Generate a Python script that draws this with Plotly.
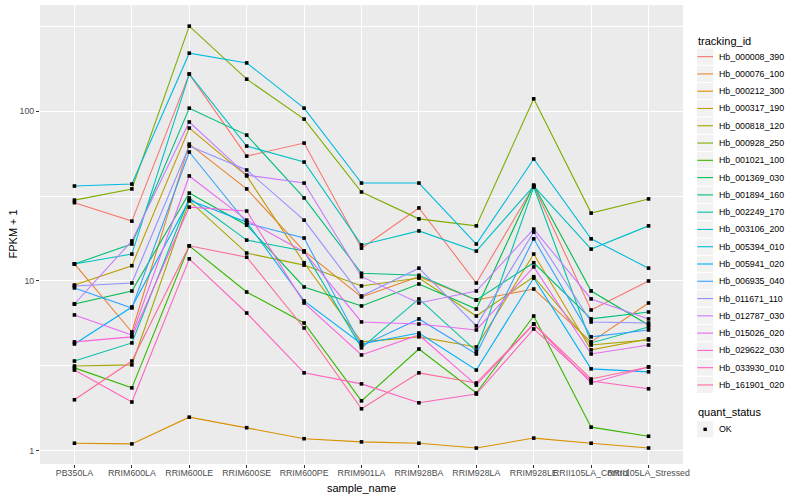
import math
import plotly.graph_objects as go

# ---------------- data ----------------
categories = ["PB350LA", "RRIM600LA", "RRIM600LE", "RRIM600SE", "RRIM600PE",
              "RRIM901LA", "RRIM928BA", "RRIM928LA", "RRIM928LE",
              "RRII105LA_Control", "RRII105LA_Stressed"]

tracking_ids = ["Hb_000008_390", "Hb_000076_100", "Hb_000212_300", "Hb_000317_190",
                "Hb_000818_120", "Hb_000928_250", "Hb_001021_100", "Hb_001369_030",
                "Hb_001894_160", "Hb_002249_170", "Hb_003106_200", "Hb_005394_010",
                "Hb_005941_020", "Hb_006935_040", "Hb_011671_110", "Hb_012787_030",
                "Hb_015026_020", "Hb_029622_030", "Hb_033930_010", "Hb_161901_020"]

hb_000008_390 = [28.9, 22.5, 165, 54.3, 64.8, 15.6, 26.9, 9.73, 36.2, 6.75, 10.0]
hb_000076_100 = [12.6, 5.01, 63.9, 34.8, 15.0, 8.05, 10.6, 7.73, 8.97, 4.38, 7.42]
hb_000212_300 = [1.11, 1.10, 1.58, 1.37, 1.18, 1.13, 1.11, 1.04, 1.19, 1.11, 1.04]
hb_000317_190 = [9.47, 12.3, 79.4, 41.5, 12.8, 4.38, 4.69, 4.09, 14.4, 3.93, 4.56]
hb_000818_120 = [3.16, 3.21, 29.6, 14.6, 12.4, 9.35, 10.4, 6.22, 10.6, 4.20, 4.50]
hb_000928_250 = [29.9, 34.8, 316, 154, 89.7, 33.4, 23.2, 21.1, 118, 25.1, 30.4]
hb_001021_100 = [3.08, 2.35, 16.1, 8.61, 5.66, 1.97, 3.98, 2.19, 6.22, 1.38, 1.22]
hb_001369_030 = [7.32, 8.73, 32.9, 21.3, 9.22, 7.13, 9.60, 6.84, 36.7, 8.73, 5.51]
hb_001894_160 = [12.6, 16.5, 104, 72.2, 30.8, 11.1, 10.8, 7.73, 12.8, 5.98, 6.57]
hb_002249_170 = [3.38, 4.32, 30.8, 17.4, 15.0, 4.04, 7.84, 3.87, 35.7, 4.32, 5.36]
hb_003106_200 = [12.6, 14.4, 165, 62.2, 50.1, 16.3, 19.7, 15.0, 36.2, 15.4, 21.1]
hb_005394_010 = [36.2, 37.2, 219, 192, 104, 37.7, 37.7, 16.5, 52.2, 17.7, 11.9]
hb_005941_020 = [4.26, 7.03, 29.9, 22.2, 7.63, 4.26, 4.94, 2.99, 10.4, 3.04, 2.92]
hb_006935_040 = [9.10, 6.94, 57.4, 21.9, 17.9, 4.15, 5.98, 3.72, 17.7, 4.69, 5.15]
hb_011671_110 = [9.35, 9.73, 62.2, 45.0, 22.8, 8.16, 11.9, 5.44, 19.4, 5.74, 5.66]
hb_012787_030 = [7.32, 17.2, 86.2, 42.0, 37.7, 10.6, 7.42, 8.73, 20.2, 7.84, 5.98]
hb_015026_020 = [6.31, 4.81, 41.5, 22.8, 14.8, 5.74, 5.58, 5.15, 12.1, 3.72, 4.20]
hb_029622_030 = [4.38, 4.69, 27.2, 25.8, 7.42, 3.67, 4.81, 2.44, 5.58, 2.51, 3.12]
hb_033930_010 = [2.99, 1.94, 13.5, 6.48, 2.88, 2.48, 1.92, 2.16, 5.22, 2.58, 2.32]
hb_161901_020 = [2.00, 3.38, 16.1, 13.8, 5.29, 1.77, 2.88, 2.51, 5.58, 2.65, 3.12]

series_values = [hb_000008_390, hb_000076_100, hb_000212_300, hb_000317_190,
                 hb_000818_120, hb_000928_250, hb_001021_100, hb_001369_030,
                 hb_001894_160, hb_002249_170, hb_003106_200, hb_005394_010,
                 hb_005941_020, hb_006935_040, hb_011671_110, hb_012787_030,
                 hb_015026_020, hb_029622_030, hb_033930_010, hb_161901_020]

y_tick_vals = [1, 10, 100]
y_tick_text = ["1", "10", "100"]
quant_status_levels = ["OK"]


# ---------------- ggplot2 hue palette ----------------
def hcl_hex(h, c=100.0, l=65.0):
    WHITE_Y, WHITE_u, WHITE_v = 100.0, 0.1978398, 0.4683363
    hr = math.radians(h)
    U, V = c * math.cos(hr), c * math.sin(hr)
    Y = WHITE_Y * ((l + 16) / 116) ** 3
    u = U / (13 * l) + WHITE_u
    v = V / (13 * l) + WHITE_v
    X = 9.0 * Y * u / (4 * v)
    Z = -X / 3 - 5 * Y + 3 * Y / v

    def g(t):
        return 1.055 * t ** (1 / 2.4) - 0.055 if t > 0.00304 else 12.92 * t
    r = g((3.240479 * X - 1.537150 * Y - 0.498535 * Z) / WHITE_Y)
    gg = g((-0.969256 * X + 1.875992 * Y + 0.041556 * Z) / WHITE_Y)
    b = g((0.055648 * X - 0.204043 * Y + 1.057311 * Z) / WHITE_Y)
    to = lambda t: int(255 * min(1.0, max(0.0, t)) + 0.5)
    return "#%02X%02X%02X" % (to(r), to(gg), to(b))


n = len(tracking_ids)
colors = [hcl_hex(15 + 360.0 * i / n) for i in range(n)]

# ---------------- geometry ----------------
W, H = 800, 500
ML, MR, MT, MB = 40, 117, 5, 36
PW, PH = W - ML - MR, H - MT - MB
FONT = "Liberation Sans, Arial, sans-serif"
Y_RANGE_LOG = [-0.077, 2.624]   # axis extent (log10 units), as in the reference panel


def px(xp):
    return (xp - ML) / PW


def py(yp):
    return (H - MB - yp) / PH


fig = go.Figure()
for vals, col in zip(series_values, colors):
    fig.add_trace(go.Scatter(x=categories, y=vals, mode="lines",
                             line=dict(color=col, width=1.1),
                             showlegend=False, hoverinfo="skip"))
for name, vals in zip(tracking_ids, series_values):
    fig.add_trace(go.Scatter(x=categories, y=vals, mode="markers", name=name,
                             marker=dict(symbol="square", size=3.6, color="black",
                                         line=dict(width=0)),
                             showlegend=False))

axis_common = dict(showgrid=True, gridcolor="white", gridwidth=1.1,
                   zeroline=False, showline=False, ticks="outside", ticklen=3,
                   tickwidth=1, tickcolor="#333333",
                   tickfont=dict(family=FONT, size=8.8, color="#4D4D4D"))

shapes = []
annotations = []

# axis titles
annotations.append(dict(x=px(ML + PW / 2), y=py(488), xref="paper", yref="paper",
                        text="sample_name", showarrow=False,
                        xanchor="center", yanchor="middle",
                        font=dict(family=FONT, size=11, color="black")))
annotations.append(dict(x=px(12), y=py(MT + PH / 2), xref="paper", yref="paper",
                        text="FPKM + 1", showarrow=False, textangle=-90,
                        xanchor="center", yanchor="middle",
                        font=dict(family=FONT, size=11, color="black")))

# legend: tracking_id
KEY = 17.28
kx0, kx1 = 696.5, 713.8
annotations.append(dict(x=px(695.5), y=py(40.7), xref="paper", yref="paper",
                        text="tracking_id", showarrow=False, xanchor="left",
                        yanchor="middle",
                        font=dict(family=FONT, size=11, color="black")))
top0 = 48.0
for i, (name, col) in enumerate(zip(tracking_ids, colors)):
    t = top0 + KEY * i
    shapes.append(dict(type="rect", xref="paper", yref="paper",
                       x0=px(kx0), x1=px(kx1), y0=py(t), y1=py(t + KEY),
                       fillcolor="#F2F2F2", line=dict(color="white", width=1)))
    shapes.append(dict(type="line", xref="paper", yref="paper",
                       x0=px(kx0 + 0.8), x1=px(kx1 - 0.8),
                       y0=py(t + KEY / 2), y1=py(t + KEY / 2),
                       line=dict(color=col, width=1.1)))
    annotations.append(dict(x=px(716.5), y=py(t + KEY / 2), xref="paper", yref="paper",
                            text=name, showarrow=False, xanchor="left",
                            yanchor="middle",
                            font=dict(family=FONT, size=8.8, color="black")))

# legend: quant_status
annotations.append(dict(x=px(695.5), y=py(412), xref="paper", yref="paper",
                        text="quant_status", showarrow=False, xanchor="left",
                        yanchor="middle",
                        font=dict(family=FONT, size=11, color="black")))
qt = 420.7
for j, lev in enumerate(quant_status_levels):
    t = qt + KEY * j
    shapes.append(dict(type="rect", xref="paper", yref="paper",
                       x0=px(kx0), x1=px(kx1), y0=py(t), y1=py(t + KEY),
                       fillcolor="#F2F2F2", line=dict(color="white", width=1)))
    cx, cy = (kx0 + kx1) / 2, t + KEY / 2
    shapes.append(dict(type="rect", xref="paper", yref="paper",
                       x0=px(cx - 1.7), x1=px(cx + 1.7), y0=py(cy + 1.7), y1=py(cy - 1.7),
                       fillcolor="black", line=dict(width=0)))
    annotations.append(dict(x=px(716.5), y=py(cy), xref="paper", yref="paper",
                            text=lev, showarrow=False, xanchor="left", yanchor="middle",
                            font=dict(family=FONT, size=8.8, color="black")))

fig.update_layout(
    width=W, height=H,
    margin=dict(l=ML, r=MR, t=MT, b=MB, pad=0),
    paper_bgcolor="white", plot_bgcolor="#EBEBEB",
    font=dict(family=FONT),
    showlegend=False,
    xaxis=dict(type="category", categoryorder="array", categoryarray=categories,
               range=[-0.6, len(categories) - 0.4], tickangle=0,
               ticklabelstandoff=-3, **axis_common),
    yaxis=dict(type="log", range=Y_RANGE_LOG, tickmode="array",
               tickvals=y_tick_vals, ticktext=y_tick_text,
               minor=dict(tickmode="array",
                          tickvals=[10 ** -0.5, 10 ** 0.5, 10 ** 1.5, 10 ** 2.5],
                          showgrid=True, gridcolor="white", gridwidth=0.55,
                          ticklen=0),
               **axis_common),
    shapes=shapes,
    annotations=annotations,
)

fig.write_html("out.html",
               config={"displayModeBar": False},
               post_script="document.body.style.margin='0px';"
                           "document.body.style.padding='0px';")
